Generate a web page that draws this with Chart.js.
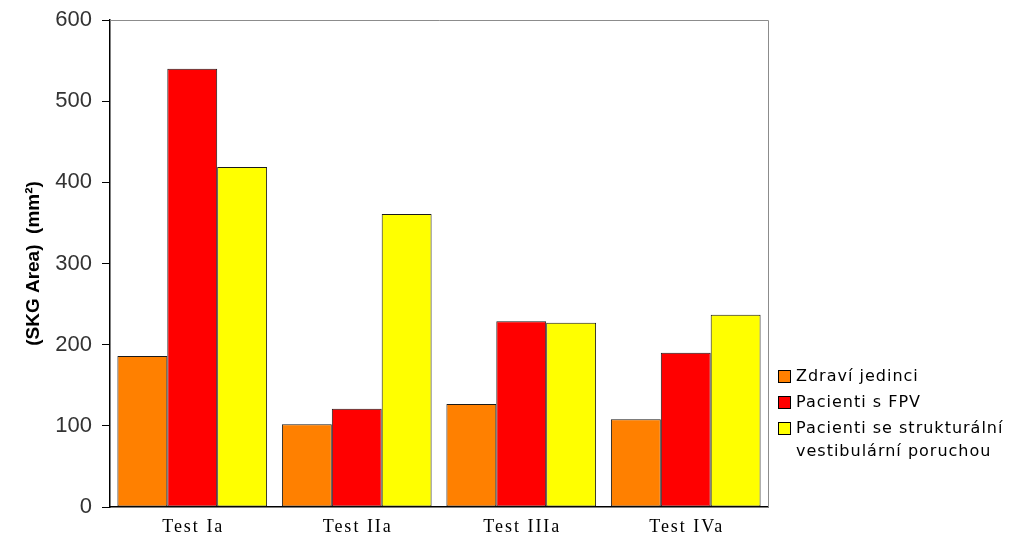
<!DOCTYPE html>
<html>
<head>
<meta charset="utf-8">
<script src="https://cdn.jsdelivr.net/npm/chart.js@4"></script>
<style>
  html, body { margin: 0; padding: 0; background: #fff; }
  #wrap { width: 1010px; height: 538px; }
</style>
</head>
<body>
<div id="wrap"><canvas id="skgChart"></canvas></div>
<script>
// data
const categories = ["Test Ia", "Test IIa", "Test IIIa", "Test IVa"];
const zdravi = [186, 102, 127, 108];
const fpv = [540, 121, 229, 190];
const strukturalni = [419, 361, 227, 237];
const seriesNames = [["Zdraví jedinci"], ["Pacienti s FPV"], ["Pacienti se strukturální", "vestibulární poruchou"]];
const yTicks = [0, 100, 200, 300, 400, 500, 600];

// gray frame on top / right, spaced category labels, legend
const framePlugin = {
  id: "frame",
  afterDraw(chart) {
    const c = chart.ctx;
    const a = chart.chartArea;
    c.save();
    c.strokeStyle = "#8c8c8c";
    c.lineWidth = 1;
    c.beginPath();
    c.moveTo(a.left, a.top + 0.5);
    c.lineTo(a.right + 0.5, a.top + 0.5);
    c.lineTo(a.right + 0.5, a.bottom);
    c.stroke();

    // category labels (serif, a bit spaced out)
    const xs = chart.scales.x;
    c.font = "18px 'Liberation Serif'";
    c.letterSpacing = "2px";
    c.fillStyle = "#000";
    c.textAlign = "center";
    c.textBaseline = "middle";
    chart.data.labels.forEach((lab, i) => {
      c.fillText(lab, xs.getPixelForValue(i) + 1, a.bottom + 20);
    });

    // legend
    c.font = "16px 'DejaVu Sans'";
    c.letterSpacing = "1px";
    c.textAlign = "left";
    let y = 377;
    chart.data.datasets.forEach((ds) => {
      c.fillStyle = ds.backgroundColor;
      c.fillRect(778.5, y - 6.5, 12, 12);
      c.strokeStyle = "#000";
      c.strokeRect(778.5, y - 6.5, 12, 12);
      c.fillStyle = "#000";
      ds.legendLines.forEach((line, j) => {
        c.fillText(line, 796, y + j * 23);
      });
      y += 26 + 23 * (ds.legendLines.length - 1);
    });
    c.restore();
  }
};

new Chart(document.getElementById("skgChart").getContext("2d"), {
  type: "bar",
  data: {
    labels: categories,
    datasets: [
      { label: seriesNames[0].join(" "), legendLines: seriesNames[0], data: zdravi, backgroundColor: "#ff8000" },
      { label: seriesNames[1].join(" "), legendLines: seriesNames[1], data: fpv, backgroundColor: "#ff0000" },
      { label: seriesNames[2].join(" "), legendLines: seriesNames[2], data: strukturalni, backgroundColor: "#ffff00" },
    ].map(d => Object.assign(d, { borderColor: "#1a1a1a", borderWidth: 1, borderSkipped: false })),
  },
  options: {
    responsive: true,
    maintainAspectRatio: false,
    animation: false,
    layout: { padding: { top: 20, right: 242, left: 0, bottom: 0 } },
    plugins: {
      legend: { display: false },
      tooltip: { enabled: false },
    },
    datasets: { bar: { categoryPercentage: 0.91, barPercentage: 1.0 } },
    scales: {
      x: {
        grid: { display: false },
        border: { color: "#000", width: 1.5 },
        ticks: { display: false },
        afterFit(s) { s.height = 31; },
      },
      y: {
        min: 0,
        max: 600,
        afterBuildTicks(s) { s.ticks = yTicks.map(v => ({ value: v })); },
        grid: { drawOnChartArea: false, tickLength: 8, color: "#000" },
        border: { color: "#000", width: 1.5 },
        ticks: { color: "#333", font: { family: "'Liberation Sans'", size: 22 }, padding: 10 },
        title: {
          display: true,
          text: "(SKG Area)  (mm²)",
          color: "#000",
          font: { family: "'Liberation Sans'", size: 19, weight: "bold" },
          padding: { top: 22, bottom: 0 },
        },
        afterFit(s) { s.width = 110; s.paddingTop = 0; s.paddingBottom = 0; },
      },
    },
  },
  plugins: [framePlugin],
});
</script>
</body>
</html>
